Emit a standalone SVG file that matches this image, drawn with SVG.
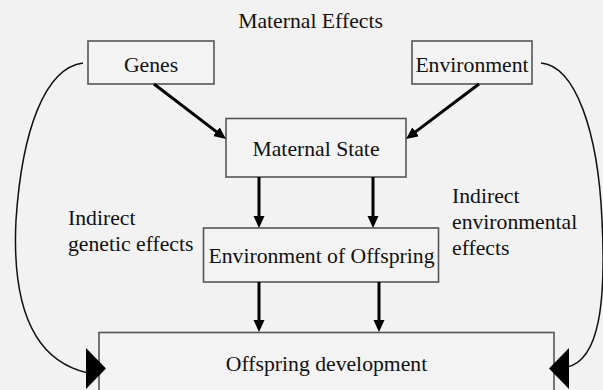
<svg xmlns="http://www.w3.org/2000/svg" width="603" height="390" viewBox="0 0 603 390">
<style>
  .box { fill: #f3f3f3; stroke: #555; stroke-width: 1.6; }
  .t { font-family: "Liberation Serif", "Times New Roman", serif; font-size: 21.7px; fill: #111; }
  .c { text-anchor: middle; }
  .arr { stroke: #000; stroke-width: 3; fill: none; marker-end: url(#ah); }
  .curve { stroke: #111; stroke-width: 1.5; fill: none; }
  .big { fill: #000; }
</style>
<defs>
  <marker id="ah" markerUnits="userSpaceOnUse" markerWidth="13" markerHeight="12" refX="6" refY="5.5" orient="auto">
    <path d="M0,0 L12,5.5 L0,11 z" fill="#000"/>
  </marker>
</defs>
<rect width="603" height="390" fill="#f2f2f2"/>
<text class="t c" x="310.5" y="27.5">Maternal Effects</text>
<g id="genes">
  <rect class="box" x="88" y="41" width="126" height="43"/>
  <text class="t c" x="151" y="71.5">Genes</text>
</g>
<g id="environment">
  <rect class="box" x="412" y="41" width="120" height="43"/>
  <text class="t c" x="472" y="71.5">Environment</text>
</g>
<g id="maternal-state">
  <rect class="box" x="226" y="118.5" width="180" height="58.5"/>
  <text class="t c" x="316" y="156">Maternal State</text>
</g>
<g id="environment-of-offspring">
  <rect class="box" x="203.5" y="228" width="235" height="54"/>
  <text class="t c" x="321.5" y="263">Environment of Offspring</text>
</g>
<g id="offspring-development">
  <rect class="box" x="99" y="332.5" width="455" height="70"/>
  <text class="t c" x="326.5" y="371">Offspring development</text>
</g>
<g id="label-genetic">
  <text class="t" x="68" y="225">Indirect</text>
  <text class="t" x="68" y="251">genetic effects</text>
</g>
<g id="label-environmental">
  <text class="t" x="452" y="203">Indirect</text>
  <text class="t" x="452" y="229">environmental</text>
  <text class="t" x="452" y="254.5">effects</text>
</g>
<g id="connectors">
  <line class="arr" x1="154" y1="84" x2="221.2" y2="135.4"/>
  <line class="arr" x1="479" y1="84" x2="410.8" y2="135.4"/>
  <line class="arr" x1="259" y1="177" x2="259" y2="222"/>
  <line class="arr" x1="373" y1="177" x2="373" y2="222"/>
  <line class="arr" x1="259" y1="282" x2="259" y2="326"/>
  <line class="arr" x1="379" y1="282" x2="379" y2="326"/>
  <path class="curve" d="M83,63 C45,68 22,130 16,220 C12,300 30,360 88,373"/>
  <path class="curve" d="M541,63 C575,66 598,130 602,220 C606,300 600,360 567,367"/>
  <polygon class="big" points="86,348 106,368.5 86,389"/>
  <polygon class="big" points="569,348 549,368.5 569,389"/>
</g>
</svg>
